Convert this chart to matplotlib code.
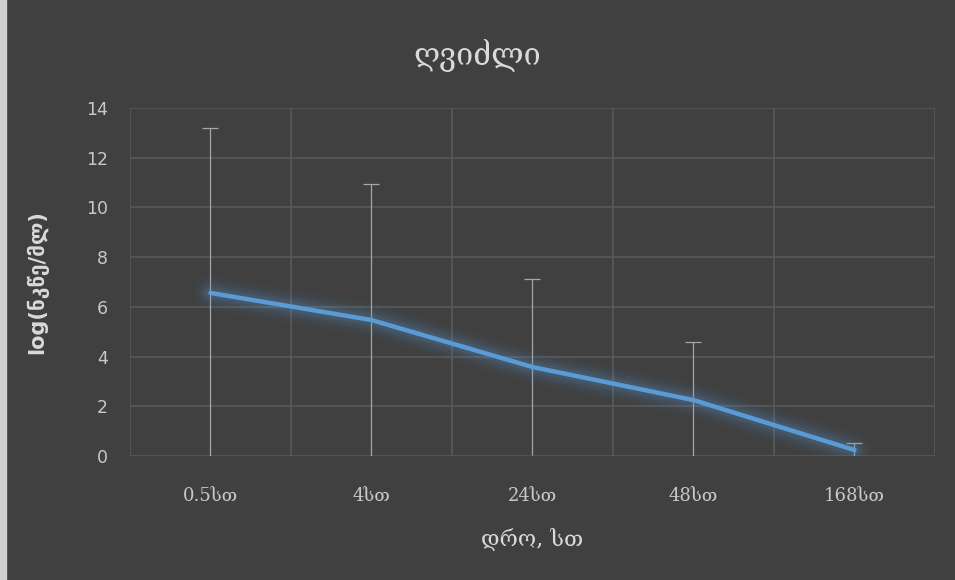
import matplotlib
matplotlib.use("Agg")
from matplotlib import pyplot as plt
from matplotlib.patches import Rectangle

categories = ["0.5სთ", "4სთ", "24სთ", "48სთ", "168სთ"]
values = [6.56, 5.47, 3.58, 2.25, 0.24]
errors = [6.63, 5.47, 3.54, 2.34, 0.28]
yticks = [0, 2, 4, 6, 8, 10, 12, 14]

title = "ღვიძლი"
xLabel = "დრო, სთ"
yLabel = "log(ნკწე/მლ)"

bg = "#404040"
txt = "#d9d9d9"
grid = "#595959"
blue = "#5b9bd5"
errc = "#a6a6a6"

fig = plt.figure(figsize=(9.55, 5.8), dpi=100, facecolor=bg)
ax = fig.add_axes([0.1361, 0.2138, 0.8429, 0.6])
ax.set_facecolor(bg)

# light strip along the left edge
fig.patches.append(Rectangle((0, 0), 0.006, 1, transform=fig.transFigure,
                             color="#d0d0d0", zorder=0))

x = list(range(len(categories)))
lo = [v - e for v, e in zip(values, errors)]
hi = [v + e for v, e in zip(values, errors)]

# error bars: whisker down past the axis, cap only on top
ax.vlines(x, lo, hi, color=errc, linewidth=0.9, zorder=2)
ax.plot(x, hi, linestyle="none", marker="_", markersize=12,
        markeredgewidth=0.9, color=errc, zorder=2)

# soft glow under the line
for lw, a in [(24, 0.035), (19, 0.045), (15, 0.06), (11, 0.08), (7.5, 0.11)]:
    ax.plot(x, values, color=blue, linewidth=lw, alpha=a,
            solid_capstyle="round", solid_joinstyle="round", zorder=3)
ax.plot(x, values, color=blue, linewidth=3.2, solid_capstyle="round",
        solid_joinstyle="round", zorder=4)

ax.set_xlim(-0.5, len(categories) - 0.5)
ax.set_ylim(0, 14)
ax.set_yticks(yticks)
ax.set_xticks(x)
ax.set_xticklabels(categories, family="DejaVu Serif", fontsize=13, color=txt)
ax.set_xticks([i + 0.5 for i in range(-1, len(categories))], minor=True)

ax.grid(True, which="minor", axis="x", color=grid, linewidth=1.2)
ax.grid(True, which="major", axis="y", color=grid, linewidth=1.2)
ax.set_axisbelow(True)

ax.tick_params(axis="both", which="both", length=0, colors="#c8c8c8")
ax.tick_params(axis="y", labelsize=12.5, pad=16)
ax.tick_params(axis="x", pad=22)
for s in ax.spines.values():
    s.set_visible(False)

ax.set_xlabel(xLabel, family="DejaVu Serif", fontsize=16, color=txt, labelpad=16)
ax.set_ylabel(yLabel, family="DejaVu Sans", fontsize=15, color=txt,
              fontweight="bold", labelpad=27)
fig.text(0.5, 0.905, title, family="DejaVu Serif", fontsize=22, color=txt,
         ha="center", va="center")

plt.savefig("out.png", dpi=100, facecolor=bg)
